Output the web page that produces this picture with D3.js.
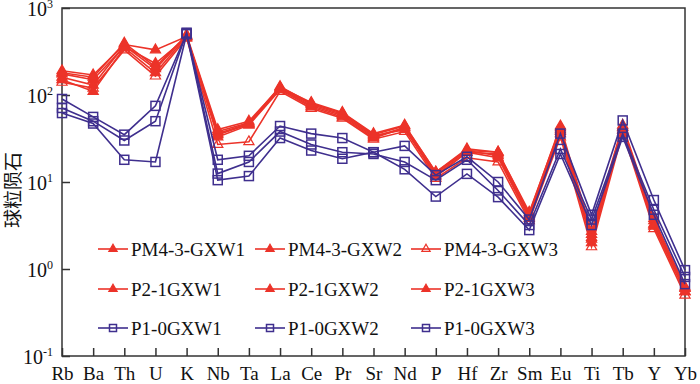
<!DOCTYPE html>
<html>
<head>
<meta charset="utf-8">
<script src="https://cdn.jsdelivr.net/npm/d3@7"></script>
<style>
body { margin: 0; background: #fff; }
.axis path, .axis line { stroke: #333; stroke-width: 1.5; }
</style>
</head>
<body>
<div class="spider-chart"></div>
<script>
var elements = ["Rb","Ba","Th","U","K","Nb","Ta","La","Ce","Pr","Sr","Nd","P","Hf","Zr","Sm","Eu","Ti","Tb","Y","Yb"];

// red samples (triangles)
var pm43gxw1 = [190,170,380,330,470,38,48,125,80,62,35,44,13,24,22,4.5,42,2.3,42,3.3,0.6];
var pm43gxw2 = [175,150,360,230,460,35,46,118,75,58,33,42,12,22,21,4.2,38,2.0,40,3.1,0.55];
var pm43gxw3 = [140,120,330,165,450,27,29,110,70,54,31,38,11,19,17,3.6,33,1.8,37,2.9,0.5];
var p21gxw1 = [160,130,370,200,480,36,47,120,78,60,34,40,12.5,23,20,4.0,40,2.5,43,3.6,0.6];
var p21gxw2 = [150,110,350,180,470,33,45,115,73,56,32,42,11.5,22,19,3.8,36,2.2,39,3.2,0.55];
var p21gxw3 = [180,160,395,210,490,40,50,122,82,63,36,45,13,23,22,4.3,44,2.7,45,3.8,0.62];

// blue samples (open squares)
var p10gxw1 = [90,56,35,75,510,18,20,44,36,32,22,26,12,19.5,10,3.7,36,4.2,51,6.2,0.97];
var p10gxw2 = [71,50,30,50,520,12.5,17,38,27,22,21,17,10.5,18,8,3.2,24,3.7,36,4.8,0.81];
var p10gxw3 = [62,47,18,17,500,10.5,11.7,32,23,18.5,22,14,6.8,12.4,6.7,2.8,21,3.2,33,4.2,0.67];

var seriesNames = ["PM4-3-GXW1","PM4-3-GXW2","PM4-3-GXW3","P2-1GXW1","P2-1GXW2","P2-1GXW3","P1-0GXW1","P1-0GXW2","P1-0GXW3"];
var seriesValues = [pm43gxw1,pm43gxw2,pm43gxw3,p21gxw1,p21gxw2,p21gxw3,p10gxw1,p10gxw2,p10gxw3];
var seriesMarker = ["tri","tri","triOpen","tri","tri","tri","sq","sq","sq"];
var yTicks = [0.1,1,10,100,1000];
var yTickExp = ["-1","0","1","2","3"];

var red = "#ec3329", blue = "#3f2f8e";
var serif = "'Times New Roman', 'Liberation Serif', serif";

var series = seriesNames.map(function(name,i){
	return {name: name, marker: seriesMarker[i], color: seriesMarker[i] == "sq" ? blue : red,
		values: seriesValues[i].map(function(v,j){ return {el: elements[j], v: v}; })};
});

var sel = d3.select(".spider-chart");
var W = 700, H = 384;
var margin = {top: 8, right: 15, bottom: 28, left: 62};
var width = W - margin.left - margin.right;
var height = H - margin.top - margin.bottom;

var svg = sel.append("svg").attr("width", W).attr("height", H);
var g = svg.append("g").attr("transform", "translate(" + margin.left + "," + margin.top + ")");

var x = d3.scalePoint().domain(elements).range([0, width]);
var y = d3.scaleLog().domain([0.1, 1000]).range([height, 0]);

// frame
g.append("rect").attr("width", width).attr("height", height)
	.attr("fill", "none").attr("stroke", "#333").attr("stroke-width", 1.5);

var xAxis = d3.axisBottom(x).tickSize(-8).tickSizeOuter(0).tickPadding(11);
var gx = g.append("g").attr("class", "x axis")
	.attr("transform", "translate(0," + height + ")")
	.call(xAxis);
gx.attr("font-family", null);
gx.selectAll("text").style("font-family", serif).style("font-size", "19px").attr("fill", "#111");
gx.select(".domain").remove();

var yAxis = d3.axisLeft(y).tickValues(yTicks).tickSize(-8).tickSizeOuter(0).tickFormat("");
var gy = g.append("g").attr("class", "y axis").call(yAxis);
gy.select(".domain").remove();
gy.selectAll(".tick").each(function(d,i){
	var t = d3.select(this).append("text")
		.attr("x", -9).attr("dy", "0.35em")
		.attr("text-anchor", "end")
		.attr("fill", "#111")
		.style("font-family", serif)
		.style("font-size", "20px");
	t.append("tspan").text("10");
	t.append("tspan").attr("dy", "-0.6em").style("font-size", "12px").text(yTickExp[i]);
});

svg.append("text")
	.attr("transform", "translate(20,190) rotate(-90)")
	.attr("text-anchor", "middle")
	.attr("fill", "#111")
	.style("font-family", "'Noto Sans CJK SC', sans-serif")
	.style("font-size", "19px")
	.text("球粒陨石");

var line = d3.line().x(d => x(d.el)).y(d => y(d.v));
var tri = d3.symbol().type(d3.symbolTriangle).size(45);
var triSmall = d3.symbol().type(d3.symbolTriangle).size(30);

function drawMarker(sel, s, small) {
	if (s.marker == "sq") {
		var r = small ? 3.5 : 4.5;
		sel.append("rect").attr("x", -r).attr("y", -r).attr("width", 2*r).attr("height", 2*r)
			.attr("fill", "none").attr("stroke", s.color).attr("stroke-width", 1.5);
	} else {
		sel.append("path").attr("d", small ? triSmall() : tri())
			.attr("fill", s.marker == "triOpen" ? "none" : s.color)
			.attr("stroke", s.color).attr("stroke-width", 1.2);
	}
}

series.forEach(function(s){
	var sg = g.append("g");
	sg.append("path").datum(s.values).attr("d", line)
		.attr("fill", "none").attr("stroke", s.color).attr("stroke-width", 1.6);
	s.values.forEach(function(d){
		var m = sg.append("g").attr("transform", "translate(" + x(d.el) + "," + y(d.v) + ")");
		drawMarker(m, s, false);
	});
});

// legend, 3 x 3
var legX = [98, 255, 411], legY = [249, 289, 328];
series.forEach(function(s,i){
	var lg = svg.append("g").attr("transform", "translate(" + legX[i % 3] + "," + legY[Math.floor(i / 3)] + ")");
	lg.append("line").attr("x1", 0).attr("x2", 30).attr("stroke", s.color).attr("stroke-width", 1.6);
	var m = lg.append("g").attr("transform", "translate(15,0)");
	drawMarker(m, s, true);
	lg.append("text").attr("x", 33).attr("dy", "0.35em").attr("fill", "#111")
		.style("font-family", serif).style("font-size", "19px").text(s.name);
});
</script>
</body>
</html>
